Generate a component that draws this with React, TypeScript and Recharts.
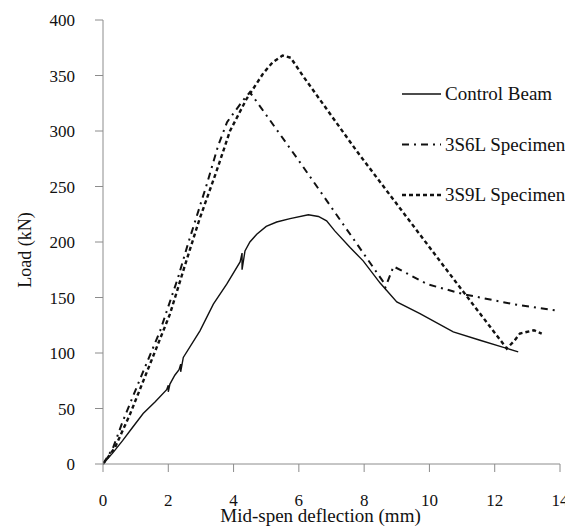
import React from 'react';
import { LineChart, Line, XAxis, YAxis, Label } from 'recharts';

// values (mm, kN)
const controlBeam = [
  { x: 0, y: 0 }, { x: 0.3, y: 10 }, { x: 0.6, y: 21 }, { x: 0.88, y: 32 }, { x: 1.23, y: 45.5 },
  { x: 1.6, y: 56 }, { x: 1.95, y: 67 }, { x: 2.0, y: 71 }, { x: 2.0, y: 65 }, { x: 2.05, y: 72 },
  { x: 2.2, y: 80 }, { x: 2.33, y: 85 }, { x: 2.38, y: 90 }, { x: 2.38, y: 83 }, { x: 2.46, y: 96 },
  { x: 2.97, y: 120 }, { x: 3.38, y: 144 }, { x: 3.79, y: 162 }, { x: 4.2, y: 182 }, { x: 4.26, y: 190 },
  { x: 4.26, y: 175 }, { x: 4.35, y: 192 }, { x: 4.5, y: 200 }, { x: 4.71, y: 207 }, { x: 5.0, y: 214 },
  { x: 5.32, y: 218 }, { x: 5.73, y: 221 }, { x: 6.29, y: 224.5 }, { x: 6.6, y: 223 }, { x: 6.85, y: 219 },
  { x: 7.1, y: 210 }, { x: 7.57, y: 195 }, { x: 7.97, y: 183 }, { x: 8.49, y: 163 }, { x: 9.0, y: 146 },
  { x: 9.71, y: 135.5 }, { x: 10.73, y: 119 }, { x: 11.55, y: 111.5 }, { x: 12.72, y: 101 },
];

const specimen3S6L = [
  { x: 0, y: 0 }, { x: 0.3, y: 14 }, { x: 0.6, y: 38 }, { x: 1.1, y: 74 }, { x: 1.75, y: 120 },
  { x: 2.3, y: 168 }, { x: 2.6, y: 198 }, { x: 3.18, y: 252 }, { x: 3.53, y: 287 }, { x: 3.8, y: 308 },
  { x: 4.05, y: 318 }, { x: 4.3, y: 328 }, { x: 4.5, y: 335 }, { x: 6.03, y: 272 }, { x: 8.59, y: 164 },
  { x: 8.65, y: 159 }, { x: 8.9, y: 178 }, { x: 9.94, y: 162 }, { x: 11.04, y: 153 }, { x: 12.57, y: 144 },
  { x: 13.95, y: 138 },
];

const specimen3S9L = [
  { x: 0, y: 0 }, { x: 0.37, y: 15 }, { x: 0.83, y: 45 }, { x: 1.44, y: 90 }, { x: 2.05, y: 135 },
  { x: 2.5, y: 178 }, { x: 2.95, y: 220 }, { x: 3.48, y: 264 }, { x: 3.89, y: 300 }, { x: 4.4, y: 329 },
  { x: 4.91, y: 352 }, { x: 5.2, y: 362 }, { x: 5.5, y: 368 }, { x: 5.75, y: 366 }, { x: 6.14, y: 349 },
  { x: 7.77, y: 282 }, { x: 10.73, y: 167 }, { x: 12.37, y: 104 }, { x: 12.6, y: 111 }, { x: 12.77, y: 117.5 },
  { x: 13.2, y: 120.5 }, { x: 13.44, y: 117.5 },
];

const xTicks = [0, 2, 4, 6, 8, 10, 12, 14];
const yTicks = [0, 50, 100, 150, 200, 250, 300, 350, 400];

const legendItems = [
  { name: 'Control Beam', dash: undefined, width: 1.4 },
  { name: '3S6L Specimen', dash: '7 5 2 5', width: 2 },
  { name: '3S9L Specimen', dash: '4 3', width: 2.4 },
];

const FONT = '"Liberation Serif", "Times New Roman", serif';
const AXIS = '#8c8c8c';

// legend drawn as an overlay so it does not eat into the plot area
const ChartLegend = () => (
  <svg width={175} height={130} style={{ position: 'absolute', left: 394, top: 70 }}>
    {legendItems.map((item, i) => {
      const cy = 16 + i * 50.5;
      return (
        <g key={item.name}>
          <line x1={0} x2={39} y1={cy} y2={cy} stroke="#111" strokeWidth={item.width} strokeDasharray={item.dash} />
          <text x={43} y={cy + 6} fontSize={19} fontFamily={FONT} fill="#111">{item.name}</text>
        </g>
      );
    })}
  </svg>
);

export default function App() {
  return (
    <div style={{ position: 'relative', width: 565, height: 519, fontFamily: FONT }}>
      <LineChart width={565} height={519} margin={{ top: 12, right: 13, left: 0, bottom: 0 }}>
        <XAxis
          type="number"
          dataKey="x"
          domain={[0, 14]}
          ticks={xTicks}
          allowDataOverflow
          stroke={AXIS}
          tickSize={8}
          tickMargin={22}
          height={63}
          tick={{ fill: '#111', fontSize: 17, fontFamily: FONT }}
        >
          <Label value="Mid-spen deflection (mm)" position="insideBottom" offset={5} dx={-11} fill="#111" fontSize={19} fontFamily={FONT} />
        </XAxis>
        <YAxis
          type="number"
          domain={[0, 400]}
          ticks={yTicks}
          stroke={AXIS}
          tickSize={8}
          tickMargin={20}
          width={95}
          tick={{ fill: '#111', fontSize: 17, fontFamily: FONT }}
        >
          <Label
            content={({ viewBox }: any) => {
              const cx = 17;
              const cy = viewBox.y + viewBox.height / 2 + 8;
              return (
                <text x={cx} y={cy} transform={`rotate(-90 ${cx} ${cy})`} textAnchor="middle" dominantBaseline="central" fontSize={18} fontFamily={FONT} fill="#111">
                  Load (kN)
                </text>
              );
            }}
          />
        </YAxis>
        <Line data={controlBeam} dataKey="y" name="Control Beam" type="linear" stroke="#111" strokeWidth={1.4} dot={false} isAnimationActive={false} />
        <Line data={specimen3S6L} dataKey="y" name="3S6L Specimen" type="linear" stroke="#111" strokeWidth={2} strokeDasharray="7 5 2 5" dot={false} isAnimationActive={false} />
        <Line data={specimen3S9L} dataKey="y" name="3S9L Specimen" type="linear" stroke="#111" strokeWidth={2.4} strokeDasharray="4 3" dot={false} isAnimationActive={false} />
      </LineChart>
      <ChartLegend />
    </div>
  );
}
